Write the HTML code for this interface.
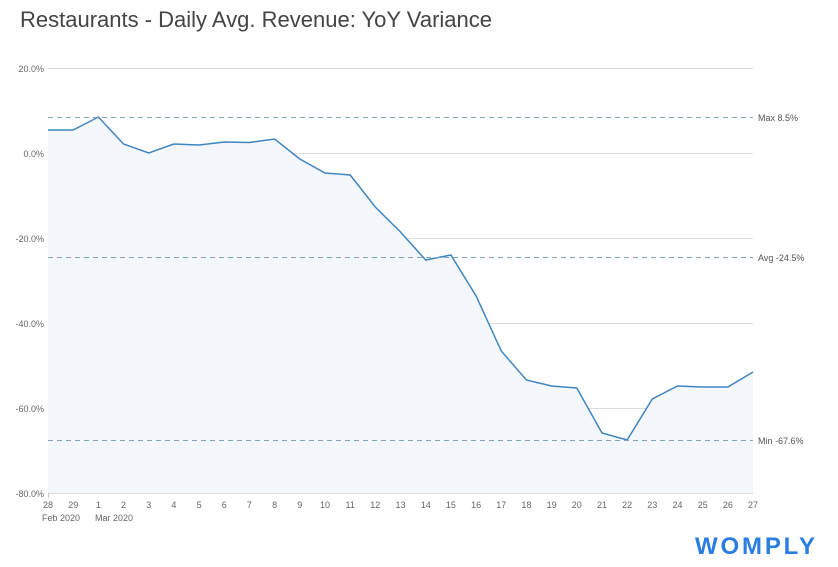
<!DOCTYPE html>
<html><head><style>
html,body{margin:0;padding:0;background:#fff;width:838px;height:567px;overflow:hidden}
</style></head><body>
<svg width="838" height="567" xmlns="http://www.w3.org/2000/svg" style="font-family:'Liberation Sans',sans-serif">
<text x="20" y="27" font-size="22" fill="#444" textLength="472">Restaurants - Daily Avg. Revenue: YoY Variance</text>
<g stroke="#ddd" stroke-width="1">
<line x1="48" x2="753" y1="68.5" y2="68.5"/>
<line x1="48" x2="753" y1="153.5" y2="153.5"/>
<line x1="48" x2="753" y1="238.5" y2="238.5"/>
<line x1="48" x2="753" y1="323.5" y2="323.5"/>
<line x1="48" x2="753" y1="408.5" y2="408.5"/>
<line x1="48" x2="753" y1="493.5" y2="493.5"/>
</g>
<g font-size="9" fill="#666" text-anchor="end">
<text x="44" y="72">20.0%</text><text x="44" y="157">0.0%</text><text x="44" y="242">-20.0%</text>
<text x="44" y="327">-40.0%</text><text x="44" y="412">-60.0%</text><text x="44" y="497">-80.0%</text>
</g>
<polygon fill="#f4f7fb" points="48,493 48,130 73.2,130 98.4,117 123.5,144 148.7,153 173.9,144 199.1,145 224.3,142 249.4,142.5 274.6,139 299.8,159 325,173 350.2,175 375.3,207 400.5,232 425.7,260 450.9,255 476.1,296 501.3,351 526.4,380 551.6,386 576.8,388 602,433 627.1,440 652.3,399 677.5,386 702.7,387 727.9,387 753,372 753,493"/>
<polyline fill="none" stroke="#3f86c0" stroke-width="1.5" points="48,130 73.2,130 98.4,117 123.5,144 148.7,153 173.9,144 199.1,145 224.3,142 249.4,142.5 274.6,139 299.8,159 325,173 350.2,175 375.3,207 400.5,232 425.7,260 450.9,255 476.1,296 501.3,351 526.4,380 551.6,386 576.8,388 602,433 627.1,440 652.3,399 677.5,386 702.7,387 727.9,387 753,372"/>
<g stroke="#7fa3c0" stroke-width="1" stroke-dasharray="5,4">
<line x1="48" x2="753" y1="117.5" y2="117.5"/>
<line x1="48" x2="753" y1="257.5" y2="257.5"/>
<line x1="48" x2="753" y1="440.5" y2="440.5"/>
</g>
<g font-size="9" fill="#555">
<text x="758" y="121">Max 8.5%</text><text x="758" y="261">Avg -24.5%</text><text x="758" y="444">Min -67.6%</text>
</g>
<g stroke="#ccc"><line x1="48.5" x2="48.5" y1="493" y2="498"/></g>
<g font-size="9" fill="#666" text-anchor="middle">
<text x="48" y="508">28</text><text x="73.2" y="508">29</text><text x="98.4" y="508">1</text><text x="123.5" y="508">2</text><text x="148.7" y="508">3</text><text x="173.9" y="508">4</text><text x="199.1" y="508">5</text><text x="224.3" y="508">6</text><text x="249.4" y="508">7</text><text x="274.6" y="508">8</text><text x="299.8" y="508">9</text><text x="325" y="508">10</text><text x="350.2" y="508">11</text><text x="375.3" y="508">12</text><text x="400.5" y="508">13</text><text x="425.7" y="508">14</text><text x="450.9" y="508">15</text><text x="476.1" y="508">16</text><text x="501.3" y="508">17</text><text x="526.4" y="508">18</text><text x="551.6" y="508">19</text><text x="576.8" y="508">20</text><text x="602" y="508">21</text><text x="627.1" y="508">22</text><text x="652.3" y="508">23</text><text x="677.5" y="508">24</text><text x="702.7" y="508">25</text><text x="727.9" y="508">26</text><text x="753" y="508">27</text>
</g>
<g font-size="9" fill="#666">
<text x="42" y="521">Feb 2020</text><text x="95" y="521">Mar 2020</text>
</g>
<text x="815" y="554" font-size="24" font-weight="bold" fill="#2a7de1" text-anchor="end" textLength="120">WOMPLY</text>
</svg>
</body></html>
